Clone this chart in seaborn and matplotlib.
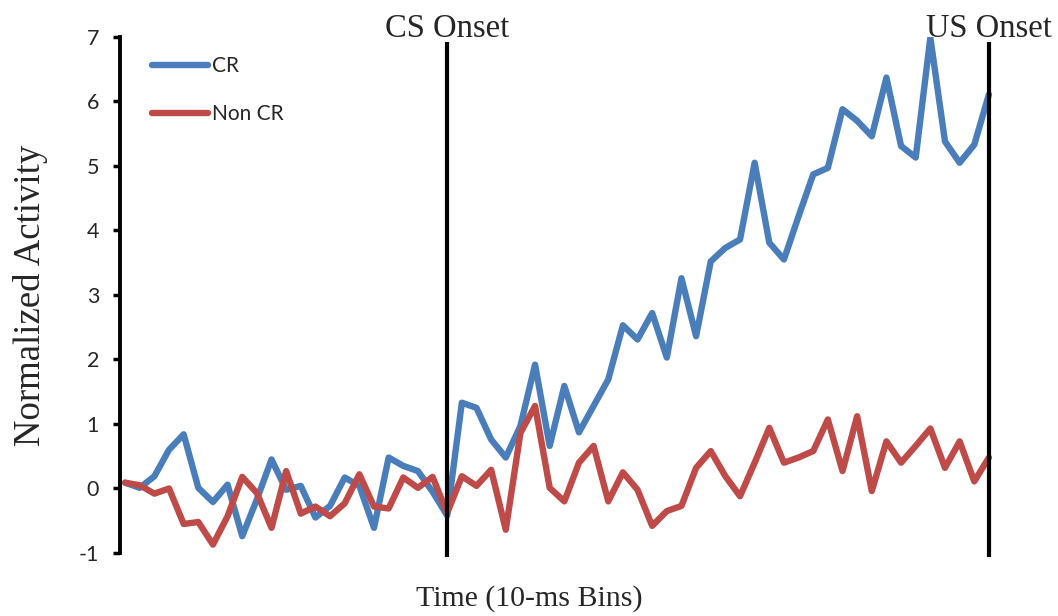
import pandas as pd
import matplotlib.pyplot as plt
import seaborn as sns

# values (60 bins, CS onset at bin 22, US onset at bin 59)
cr = [0.09, 0.01, 0.19, 0.60, 0.84, 0.01, -0.21, 0.06, -0.74, -0.17,
      0.45, -0.02, 0.04, -0.45, -0.27, 0.17, 0.04, -0.61, 0.48, 0.35,
      0.27, -0.05, -0.42, 1.33, 1.25, 0.76, 0.48, 0.97, 1.92, 0.66,
      1.59, 0.87, 1.28, 1.69, 2.53, 2.31, 2.72, 2.03, 3.26, 2.36,
      3.52, 3.73, 3.86, 5.05, 3.81, 3.55, 4.22, 4.87, 4.97, 5.88,
      5.70, 5.46, 6.37, 5.31, 5.13, 6.99, 5.38, 5.05, 5.33, 6.11]
non_cr = [0.09, 0.05, -0.08, 0.00, -0.55, -0.52, -0.87, -0.43, 0.18, -0.07,
          -0.61, 0.27, -0.39, -0.28, -0.43, -0.23, 0.22, -0.28, -0.31, 0.17,
          0.01, 0.18, -0.38, 0.19, 0.04, 0.29, -0.64, 0.86, 1.28, 0.01,
          -0.20, 0.40, 0.66, -0.20, 0.25, -0.02, -0.58, -0.35, -0.27, 0.32,
          0.58, 0.19, -0.12, 0.40, 0.94, 0.40, 0.48, 0.58, 1.07, 0.27,
          1.12, -0.04, 0.73, 0.40, 0.66, 0.93, 0.32, 0.73, 0.11, 0.48]
onset_bins = [22, 59]
onset_labels = ['CS Onset', 'US Onset']
y_ticks = [-1, 0, 1, 2, 3, 4, 5, 6, 7]

bins = list(range(len(cr)))
df = pd.DataFrame({
    'bin': bins + bins,
    'activity': cr + non_cr,
    'group': ['CR'] * len(cr) + ['Non CR'] * len(non_cr),
})

sns.set_style('white')
plt.rcParams['axes.unicode_minus'] = False

fig = plt.figure(figsize=(10.58, 6.16), dpi=100)
ax = fig.add_axes([0.1134, 0.1023, 0.8296, 0.8377])

sns.lineplot(data=df, x='bin', y='activity', hue='group',
             palette={'CR': '#4A7EBB', 'Non CR': '#BE4B48'},
             linewidth=4.6, legend=False, ax=ax,
             solid_joinstyle='round', solid_capstyle='round')

for b, lab in zip(onset_bins, onset_labels):
    ax.plot([b, b], [-1.07, 6.92], color='black', lw=3, clip_on=False,
            zorder=3, solid_capstyle='butt')
    ax.text(b, 7.0, lab, ha='center', va='baseline', fontsize=23.5,
            family='Liberation Serif')

ax.set_xlim(-0.35, 59.6)
ax.set_ylim(-1, 7)
ax.set_yticks(y_ticks)
ax.set_yticklabels([str(t) for t in y_ticks], fontsize=15.5, family='Lato')
ax.set_xticks([])
ax.tick_params(axis='y', direction='out', length=5, width=2.5, color='black',
               left=True, pad=10)

for side in ['top', 'right', 'bottom']:
    ax.spines[side].set_visible(False)
ax.spines['left'].set_linewidth(2.8)
ax.spines['left'].set_color('black')

ax.set_xlabel('')
fig.text(529 / 1058, 1 - 612 / 616, 'Time (10-ms Bins)', ha='center',
         va='bottom', fontsize=21.5, family='Liberation Serif')
ax.set_ylabel('Normalized Activity', fontsize=26.5, family='Liberation Serif',
              labelpad=22)

leg = ax.legend(ax.lines[:2], ['CR', 'Non CR'], frameon=False,
                loc='upper left', bbox_to_anchor=(152 / 1058, 1 - 56 / 616),
                bbox_transform=fig.transFigure, borderpad=0, borderaxespad=0,
                handlelength=2.7, handletextpad=0.2, labelspacing=1.35,
                prop={'family': 'Lato', 'size': 15})

fig.savefig('out.png', dpi=100)
